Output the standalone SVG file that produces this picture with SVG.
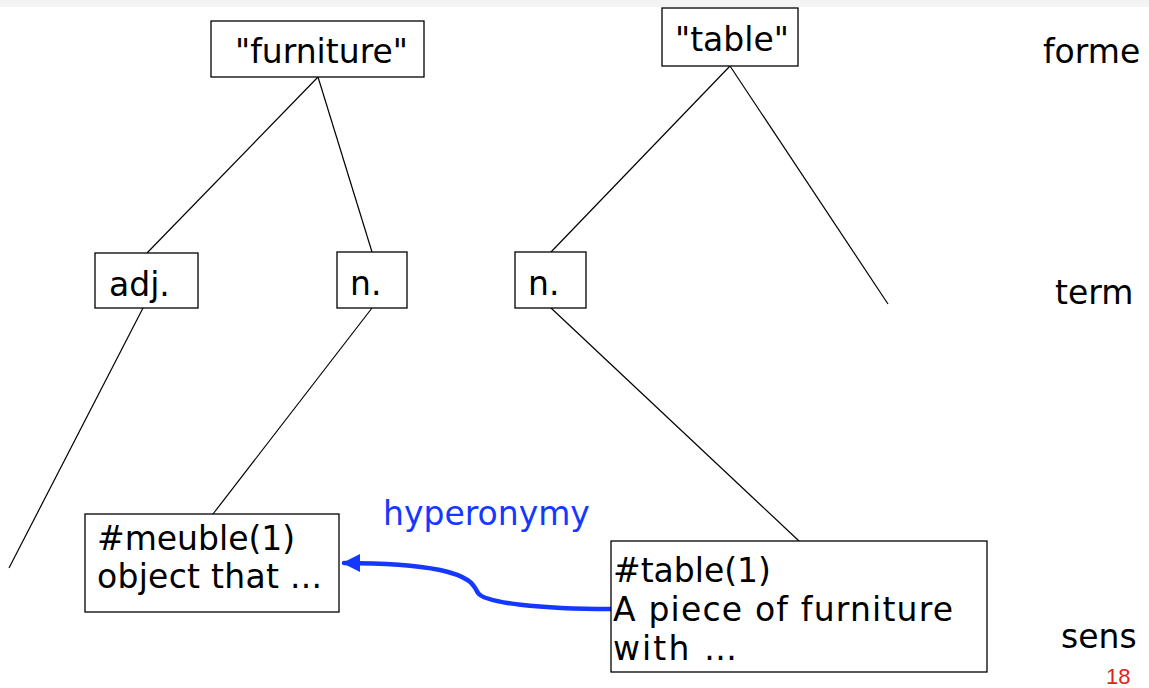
<svg xmlns="http://www.w3.org/2000/svg" width="1149" height="688" viewBox="0 0 1149 688">
  <style>
    .box { fill: #ffffff; stroke: #000000; stroke-width: 1.3; }
    .txt { font-family: "DejaVu Sans", "Liberation Sans", sans-serif; font-size: 33px; fill: #000000; }
    .edge { stroke: #000000; stroke-width: 1.2; fill: none; }
    .rel { stroke: #1438ff; stroke-width: 4.5; fill: none; stroke-linecap: round; }
  </style>
  <defs>
    <marker id="arrowBlue" viewBox="0 0 10 10" refX="9" refY="5" markerWidth="4" markerHeight="4" orient="auto" markerUnits="strokeWidth">
      <path d="M0,0 L10,5 L0,10 z" fill="#1438ff"/>
    </marker>
  </defs>

  <rect x="0" y="0" width="1149" height="7" fill="#f4f4f4"/>

  <!-- tree edges -->
  <g id="connectors">
    <line class="edge" x1="318" y1="77" x2="147" y2="253"/>
    <line class="edge" x1="318" y1="77" x2="372" y2="252"/>
    <line class="edge" x1="143" y1="308" x2="9" y2="568"/>
    <line class="edge" x1="372" y1="308" x2="213" y2="514"/>
    <line class="edge" x1="730" y1="66" x2="551" y2="252"/>
    <line class="edge" x1="730" y1="66" x2="888" y2="304"/>
    <line class="edge" x1="551" y1="308" x2="799" y2="541"/>
    <path class="rel" d="M611,609 C540,609 485,603 478,593 C474,586 472,577 440,570 C410,564 380,563 344,563" marker-end="url(#arrowBlue)"/>
  </g>

  <g id="form-furniture">
    <rect class="box" x="211" y="21" width="213" height="56"/>
    <text class="txt" x="235" y="63">"furniture"</text>
  </g>
  <g id="form-table">
    <rect class="box" x="662" y="8" width="136" height="58"/>
    <text class="txt" x="675" y="51">"table"</text>
  </g>

  <g id="term-adj">
    <rect class="box" x="95" y="253" width="103" height="55"/>
    <text class="txt" x="109" y="296">adj.</text>
  </g>
  <g id="term-n-furniture">
    <rect class="box" x="337" y="252" width="70" height="56"/>
    <text class="txt" x="350" y="295">n.</text>
  </g>
  <g id="term-n-table">
    <rect class="box" x="515" y="252" width="71" height="56"/>
    <text class="txt" x="528" y="295">n.</text>
  </g>

  <g id="sense-meuble">
    <rect class="box" x="85" y="514" width="254" height="98"/>
    <text class="txt" x="97" y="550">#meuble(1)</text>
    <text class="txt" x="97" y="588" textLength="225">object that ...</text>
  </g>
  <g id="sense-table">
    <rect class="box" x="611" y="541" width="376" height="131"/>
    <text class="txt" x="613" y="582">#table(1)</text>
    <text class="txt" x="613" y="621" textLength="340">A piece of furniture</text>
    <text class="txt" x="613" y="660" textLength="124">with …</text>
  </g>

  <g id="relation-label">
    <text class="txt" x="383" y="525" style="fill:#1438ff">hyperonymy</text>
  </g>

  <g id="level-labels">
    <text class="txt" x="1043" y="63">forme</text>
    <text class="txt" x="1055" y="304">term</text>
    <text class="txt" x="1061" y="648">sens</text>
    <text x="1106" y="684" font-family="Liberation Sans, Arial, sans-serif" font-size="22" fill="#e0241b">18</text>
  </g>
</svg>
